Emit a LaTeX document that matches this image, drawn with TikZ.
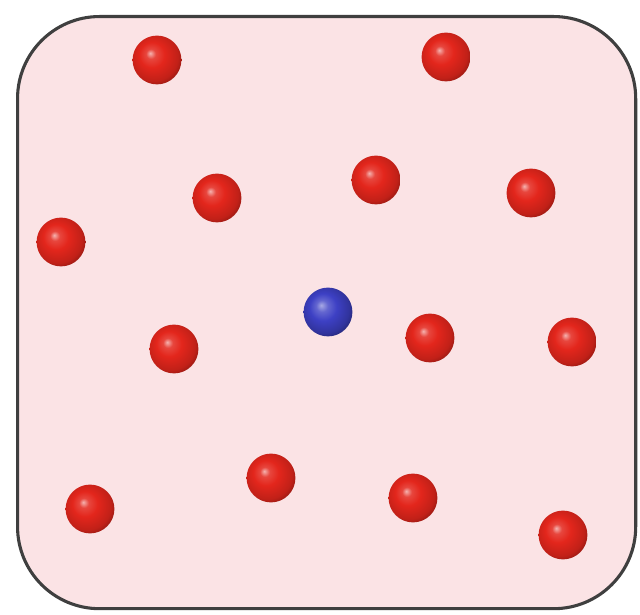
\documentclass[tikz,border=0pt]{standalone}
\usepackage{xcolor}
\definecolor{gasPink}{HTML}{FBE3E5}
\definecolor{gasEdge}{HTML}{3F3F3F}
\definecolor{gasRed}{HTML}{E3261C}
\definecolor{gasBlue}{HTML}{3D40C4}
\usepackage{tikz}
\usetikzlibrary{positioning}
\pgfdeclareradialshading{redsphere}{\pgfpoint{-7bp}{7bp}}{%
  color(0bp)=(gasRed!35!white); color(5bp)=(gasRed!85!white);
  color(13bp)=(gasRed); color(25bp)=(gasRed!85!black);
  color(33bp)=(gasRed!55!black); color(50bp)=(gasRed!55!black)}
\pgfdeclareradialshading{bluesphere}{\pgfpoint{-7bp}{7bp}}{%
  color(0bp)=(gasBlue!45!white); color(6bp)=(gasBlue!80!white);
  color(14bp)=(gasBlue); color(25bp)=(gasBlue!80!black);
  color(33bp)=(gasBlue!50!black); color(50bp)=(gasBlue!50!black)}

\begin{document}
\begin{tikzpicture}[x=0.025cm,y=-0.025cm]
  \tikzset{
    boxpanel/.style={
      draw=gasEdge,
      fill=gasPink,
      rounded corners=2.05cm,
      line width=2.2pt
    },
    redball/.style={
      circle,
      inner sep=0pt,
      minimum size=1.22cm,
      shade,
      shading=redsphere
    },
    blueball/.style={
      circle,
      inner sep=0pt,
      minimum size=1.22cm,
      shade,
      shading=bluesphere
    }
  }
  \path[use as bounding box] (0,0) rectangle (640,615);

  \node[boxpanel,minimum width=15.45cm,minimum height=14.8cm,anchor=north west] (panel) at (16,15) {};

  \node[redball] (r1) at (157,60) {};
  \node[redball] (r2) at (446,57) {};
  \node[redball] (r3) at (217,198) {};
  \node[redball] (r4) at (376,180) {};
  \node[redball] (r5) at (531,193) {};
  \node[redball] (r6) at (61,242) {};
  \node[redball] (r7) at (174,349) {};
  \node[redball] (r8) at (430,338) {};
  \node[redball] (r9) at (572,342) {};
  \node[redball] (r10) at (90,509) {};
  \node[redball] (r11) at (271,478) {};
  \node[redball] (r12) at (413,498) {};
  \node[redball] (r13) at (563,535) {};

  \node[blueball] (b1) at (328,312) {};
\end{tikzpicture}
\end{document}
